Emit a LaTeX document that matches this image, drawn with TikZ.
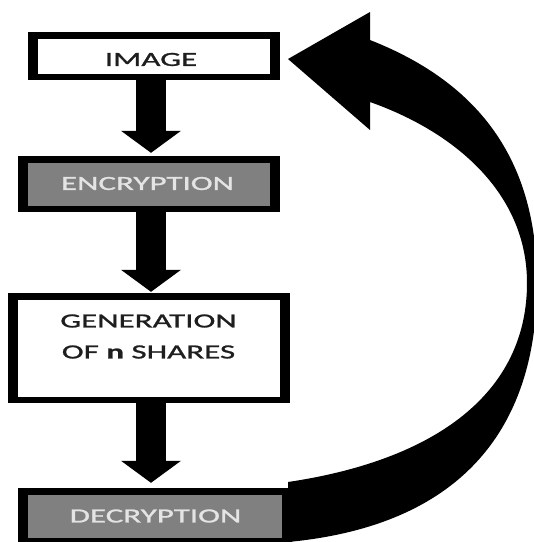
\documentclass[tikz,border=0pt]{standalone}
\usepackage{fontspec}
\setmainfont{Carlito}
\newfontfamily\boxfont[FakeStretch=1.65,FakeBold=1.2]{Carlito}
\usetikzlibrary{arrows.meta}
\definecolor{boxgrey}{HTML}{808080}
\definecolor{lighttext}{HTML}{E4E4E4}
\definecolor{darktext}{HTML}{1E1E1E}
\tikzset{
  stepbox/.style={fill=black, inner sep=0pt,
    path picture={\fill[#1]
      ([shift={(10pt,-6.5pt)}]path picture bounding box.north west) rectangle
      ([shift={(-10.5pt,6.5pt)}]path picture bounding box.south east);}},
  lbl/.style={inner sep=0pt, font=\boxfont\fontsize{20}{31}\selectfont, align=center},
  flow/.style={line width=30pt, draw=black,
    -{Triangle[width=60pt,length=22pt,line width=0pt]}},
}
\begin{document}
\begin{tikzpicture}[x=1pt,y=-1pt]
\useasboundingbox (0,0) rectangle (534,542);
\begin{scope}
\clip (0,0) rectangle (534,542);
\coordinate (ax) at (151,0);
% boxes
\node[stepbox=white, minimum width=252pt, minimum height=48pt] (img) at (154,56) {};
\node[stepbox=boxgrey, minimum width=262pt, minimum height=56pt] (enc) at (149,184) {};
\node[stepbox=white, minimum width=282pt, minimum height=110pt] (gen) at (149,348) {};
\node[stepbox=boxgrey, minimum width=274pt, minimum height=56pt] (dec) at (155,516) {};
% labels
\node[lbl, text=darktext] (imgt) at (151,59.5) {IMAGE};
\node[lbl, text=lighttext] (enct) at (147.5,183.5) {ENCRYPTION};
\node[lbl, text=darktext] (gent) at (148.5,336.5) {GENERATION\\OF {\bfseries n} SHARES};
\node[lbl, text=lighttext] (dect) at (155.5,516) {DECRYPTION};
% vertical arrows
\draw[flow, shorten >=3pt] (img.south -| ax) -- (enc.north -| ax);
\draw[flow, shorten >=1pt] (enc.south -| ax) -- (gen.north -| ax);
\draw[flow, shorten >=5pt] (gen.south -| ax) -- (dec.north -| ax);
% big curved return arrow from DECRYPTION to IMAGE
\fill[black] (288,482)
  .. controls (436,460) and (527,393) .. (527,283)
  .. controls (527,193) and (455,132) .. (370,102)
  -- (370,130) -- (288,59) -- (370,12) -- (370,40)
  .. controls (482,84) and (537,163) .. (537,283)
  .. controls (537,433) and (457,526) .. (288,542)
  -- cycle;
\end{scope}
\end{tikzpicture}
\end{document}
